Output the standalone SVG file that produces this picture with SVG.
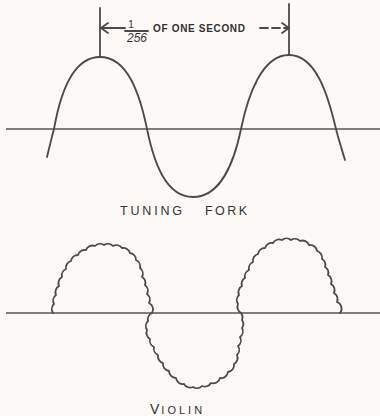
<svg xmlns="http://www.w3.org/2000/svg" width="380" height="416" viewBox="0 0 380 416">
<style>
.ln{fill:none;stroke:#4a4a4a;stroke-width:1.8;stroke-linecap:round;stroke-linejoin:round}
.ax{fill:none;stroke:#555;stroke-width:1.6}
.tx{font-family:"Liberation Sans","DejaVu Sans",sans-serif;fill:#333}
</style>
<rect width="380" height="416" fill="#fcf9f6"/>
<g id="tuning-fork">
<line class="ax" x1="6" y1="129" x2="380" y2="129"/>
<path class="ln" d="M47,157 C50,145 52,136 54,129 C60,95 72,57 100,57 C128,57 140,95 147,129 C154,163 166,197 193,197 C220,197 234,163 241,129 C248,95 262,55 289,55 C316,55 328,95 336,129 C339,141 342,150 345,160"/>
<text class="tx" x="120" y="215" font-size="12.5" textLength="62" lengthAdjust="spacing">TUNING</text>
<text class="tx" x="205" y="215" font-size="12.5" textLength="42" lengthAdjust="spacing">FORK</text>
</g>
<g id="period-marker">
<line class="ln" x1="100" y1="8" x2="100" y2="57"/>
<line class="ln" x1="289" y1="4" x2="289" y2="55"/>
<path class="ln" stroke-width="1.5" d="M125,28 L101,28 M108,23 L101,28 L108,33"/>
<path class="ln" stroke-width="1.5" stroke-dasharray="8 4" d="M260,28 L289,28"/>
<path class="ln" stroke-width="1.5" d="M282,23 L289,28 L282,33"/>
<text class="tx" x="131" y="28" font-size="10" text-anchor="middle">1</text>
<line class="ln" stroke-width="1.2" x1="125" y1="31" x2="148" y2="31"/>
<text class="tx" x="137" y="42" font-size="12" font-style="italic" text-anchor="middle">256</text>
<text class="tx" x="153" y="32" font-size="10" font-weight="bold" textLength="92" lengthAdjust="spacing">OF ONE SECOND</text>
</g>
<g id="violin">
<line class="ax" x1="6" y1="313" x2="380" y2="313"/>
<path class="ln" d="M53,313 A7,7 0 0 1 54,304 A7,7 0 0 1 56,295 A7,7 0 0 1 59,286 A7,7 0 0 1 62,277 A7,7 0 0 1 66,269 A7,7 0 0 1 71,261 A7,7 0 0 1 78,255 A7,7 0 0 1 86,250 A7,7 0 0 1 95,246 A7,7 0 0 1 104,245 A7,7 0 0 1 113,246 A7,7 0 0 1 122,248 A7,7 0 0 1 130,253 A7,7 0 0 1 136,260 A7,7 0 0 1 140,268 A7,7 0 0 1 142,277 A7,7 0 0 1 145,285 A7,7 0 0 1 147,294 A7,7 0 0 1 149,303 A7,7 0 0 1 152,313"/>
<path class="ln" d="M152,313 A7,7 0 0 0 148,321 A7,7 0 0 0 147,330 A7,7 0 0 0 150,339 A7,7 0 0 0 154,347 A7,7 0 0 0 158,355 A7,7 0 0 0 163,363 A7,7 0 0 0 169,371 A7,7 0 0 0 176,378 A7,7 0 0 0 184,384 A7,7 0 0 0 193,387 A7,7 0 0 0 202,386 A7,7 0 0 0 211,383 A7,7 0 0 0 220,378 A7,7 0 0 0 228,372 A7,7 0 0 0 234,364 A7,7 0 0 0 237,355 A7,7 0 0 0 238,346 A7,7 0 0 0 240,337 A7,7 0 0 0 242,328 A7,7 0 0 0 242,320 A7,7 0 0 0 241,313"/>
<path class="ln" d="M241,313 A7,7 0 0 1 238,304 A7,7 0 0 1 239,295 A7,7 0 0 1 242,286 A7,7 0 0 1 245,278 A7,7 0 0 1 249,270 A7,7 0 0 1 253,262 A7,7 0 0 1 258,254 A7,7 0 0 1 265,248 A7,7 0 0 1 273,243 A7,7 0 0 1 282,240 A7,7 0 0 1 291,240 A7,7 0 0 1 300,241 A7,7 0 0 1 309,245 A7,7 0 0 1 317,251 A7,7 0 0 1 322,259 A7,7 0 0 1 325,267 A7,7 0 0 1 328,275 A7,7 0 0 1 331,284 A7,7 0 0 1 334,293 A7,7 0 0 1 337,302 A7,7 0 0 1 340,313"/>
<text class="tx" x="150" y="414" font-size="14">V<tspan font-size="11" letter-spacing="3" dx="2">IOLIN</tspan></text>
</g>
</svg>
